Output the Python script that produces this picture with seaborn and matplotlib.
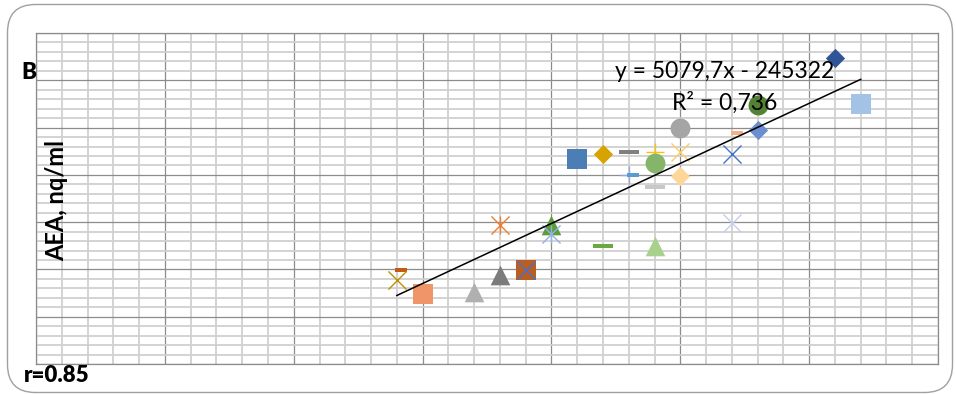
"""
AEA vs age scatter with linear trend (panel B)
Output: out.png
"""

import matplotlib
matplotlib.use('Agg')
import matplotlib.pyplot as plt
from matplotlib.patches import FancyBboxPatch
from matplotlib.path import Path
from matplotlib.transforms import IdentityTransform
import numpy as np
import seaborn as sns

# one point per series, in drawing order
x_vals = [54.15, 54, 55, 57, 58, 59, 59, 58, 60, 60, 62, 64, 67,
          61, 62, 63, 63, 63.15, 64, 64, 64, 65, 65, 65, 67, 67.2,
          68, 68, 71, 72]
y_vals = [39900, 35500, 29700, 30450, 37800, 39800, 39800, 58800, 58700, 55100,
          49800, 49800, 59800,
          86800, 88900, 89750, 79900, 80100, 89800, 84900, 74700, 99700,
          89800, 79700, 88700, 97900, 109600, 98800, 129600, 109900]

slope = 5079.7
intercept = -245322
r2_text = '0,736'
r_text = 'r=0.85'
panel_label = 'B'
y_label = 'AEA, nq/ml'

# styles, matched to the points above
point_markers = ['dash_s', 'x', 's', '^', '^', 's', 'x', 'star', '^', 'star',
                 'dash', '^', 'x',
                 's', 'D', 'dash', '+', 'dash_s', '+', 'o', 'dash', 'o',
                 'x', 'D', 'x', 'dash_s', 'o', 'D', 'D', 's']
point_colors = ['#C55A11', '#BF9000', '#F0956A', '#B0B0B0', '#7B7B7B', '#BA5D22',
                '#4472C4', '#ED7D31', '#5E9B3B', '#8FB3E3', '#6AA842', '#A9D18E',
                '#C3CFE9', '#4A7EB5', '#D6A300', '#808080', '#8FAADC', '#5B9BD5',
                '#FFC000', '#84B56A', '#C8C8C8', '#A5A5A5', '#FFCA68', '#FFD699',
                '#4472C4', '#F4B183', '#548235', '#6A8ED0', '#2F5597', '#A4C2E6']

star_path = Path([(-1, -1), (1, 1), (-1, 1), (1, -1), (0, -1), (0, 1)],
                 [Path.MOVETO, Path.LINETO] * 3)
marker_styles = {
    's': ('s', 200),
    'o': ('o', 205),
    'D': ('D', 96),
    '^': ('^', 200),
    'x': ('x', 170),
    '+': ('+', 170),
    'star': (star_path, 170),
    'dash': ([(-1, -0.22), (1, -0.22), (1, 0.22), (-1, 0.22)], 207),
    'dash_s': ([(-1, -0.33), (1, -0.33), (1, 0.33), (-1, 0.33)], 76),
}

plt.rcParams['font.family'] = ['Lato', 'DejaVu Sans']

fig = plt.figure(figsize=(9.56, 3.94), dpi=100)
ax = fig.add_axes([0.0377, 0.0761, 0.9435, 0.8401])

for xv, yv, mk, col in zip(x_vals, y_vals, point_markers, point_colors):
    m, s = marker_styles[mk]
    if mk in ('x', '+'):
        sns.scatterplot(x=[xv], y=[yv], marker=m, s=s, color=col,
                        linewidth=1.0, ax=ax, zorder=3)
    elif mk == 'star':
        sns.scatterplot(x=[xv], y=[yv], marker=m, s=s, color=col,
                        edgecolor=col, linewidth=1.0, ax=ax, zorder=3)
    else:
        sns.scatterplot(x=[xv], y=[yv], marker=m, s=s, color=col,
                        linewidth=0, ax=ax, zorder=3)

# linear trend over the data range
line_x = np.array([min(x_vals), max(x_vals)])
sns.lineplot(x=line_x, y=slope * line_x + intercept, color='black',
             linewidth=1.1, ax=ax, zorder=4)

ax.set_xlim(40, 75)
ax.set_ylim(0, 140000)
ax.set_xticks(np.arange(40, 76, 5))
ax.set_xticks(np.arange(40, 76, 1), minor=True)
ax.set_yticks(np.arange(0, 140001, 20000))
ax.set_yticks(np.arange(0, 140001, 4000), minor=True)
ax.grid(which='minor', color='#D0D0D0', linewidth=1.3)
ax.grid(which='major', color='#8C8C8C', linewidth=0.9)
ax.set_axisbelow(True)
ax.tick_params(which='both', length=0, labelbottom=False, labelleft=False)
ax.set_xlabel('')
ax.set_ylabel('')
for sp in ax.spines.values():
    sp.set_color('#8C8C8C')
    sp.set_linewidth(0.9)

ax.text(0.763, 0.885, f'y = {str(slope).replace(".", ",")}x - {abs(intercept)}',
        transform=ax.transAxes, ha='center', va='center', fontsize=16.5, zorder=5)
ax.text(0.763, 0.788, f'R² = {r2_text}', transform=ax.transAxes,
        ha='center', va='center', fontsize=16.5, zorder=5)

fig.text(0.0596, 0.49, y_label, rotation=90, ha='center', va='center',
         fontsize=17, fontweight='bold')
fig.text(0.030, 0.815, panel_label, ha='center', va='center',
         fontsize=16, fontweight='heavy')
fig.text(0.0596, 0.046, r_text, ha='center', va='center',
         fontsize=16, fontweight='heavy')

# rounded chart frame
frame = FancyBboxPatch((7.5, 1.5), 945, 388,
                       boxstyle='round,pad=0,rounding_size=28',
                       transform=IdentityTransform(), facecolor='none',
                       edgecolor='#A0A0A0', linewidth=1.0)
fig.add_artist(frame)

fig.savefig('out.png', dpi=100)
plt.close(fig)
